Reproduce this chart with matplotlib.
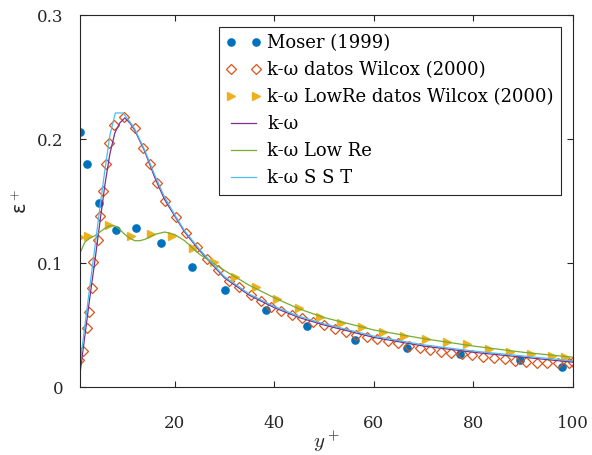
import numpy as np
import matplotlib
matplotlib.use("Agg")
import matplotlib.pyplot as plt

plt.rcParams['font.family'] = ['DejaVu Serif']
plt.rcParams['mathtext.fontset'] = 'cm'

# === Data ===
moser_x = [0.9, 2.5, 4.9, 8.3, 12.3, 17.2, 23.4, 30.1, 38.3, 46.6, 56.2, 66.7, 77.4, 89.4, 97.7]
moser_y = [0.206, 0.180, 0.148, 0.127, 0.128, 0.116, 0.097, 0.078, 0.062, 0.049, 0.038, 0.0315,
           0.027, 0.0215, 0.016]

wilcox_x = [0.7, 1.6, 2.45, 2.9, 3.45, 3.7, 4.6, 5.1, 5.6, 6.3, 6.9, 7.8, 9.8, 12.0, 13.6, 15.0,
            16.4, 18.0, 20.2, 22.2, 24.5, 26.5, 28.7, 31.0, 33.0, 35.4, 37.4, 39.4, 41.4, 43.5,
            45.6, 47.8, 50.0, 52.2, 54.4, 56.5, 58.6, 60.7, 62.8, 64.9, 67.0, 69.2, 71.3, 73.4,
            75.6, 77.7, 79.8, 82.0, 84.1, 86.3, 88.4, 90.6, 92.7, 94.7, 96.9, 99.1, 100.1]
wilcox_y = [0.0218, 0.0293, 0.0473, 0.0607, 0.0796, 0.1006, 0.1185, 0.1379, 0.158, 0.1796,
            0.1965, 0.2113, 0.2175, 0.2086, 0.193, 0.1796, 0.1648, 0.1504, 0.1373, 0.124,
            0.1131, 0.1032, 0.0944, 0.0857, 0.0804, 0.0742, 0.0696, 0.0648, 0.0613, 0.0581,
            0.0554, 0.0527, 0.050, 0.0468, 0.0445, 0.0419, 0.040, 0.0385, 0.037, 0.0352,
            0.033, 0.0312, 0.030, 0.0285, 0.0275, 0.0266, 0.0255, 0.0244, 0.0234, 0.0223,
            0.0213, 0.0204, 0.0197, 0.0191, 0.019, 0.0191, 0.020]

lowre_x = [0.9, 2.7, 6.9, 11.2, 15.2, 19.5, 23.7, 27.9, 32.2, 36.4, 40.6, 44.9, 49.1, 53.4,
           57.6, 61.9, 66.1, 70.4, 74.6, 78.8, 83.1, 87.3, 91.5, 95.7, 98.4]
lowre_y = [0.121, 0.122, 0.131, 0.122, 0.123, 0.122, 0.112, 0.101, 0.089, 0.081, 0.071, 0.0635,
           0.0567, 0.052, 0.048, 0.0446, 0.041, 0.0384, 0.036, 0.0347, 0.031, 0.0285, 0.027,
           0.025, 0.0244]

kw_x = [1, 2, 3, 4, 5, 6, 7, 8, 9, 10, 11, 12, 14, 16, 18, 20, 22, 25, 30, 35, 40, 45, 50,
        60, 70, 80, 90, 100]
kw_y = [0.011, 0.042, 0.073, 0.102, 0.133, 0.163, 0.188, 0.205, 0.213, 0.217, 0.213, 0.207,
        0.190, 0.169, 0.151, 0.138, 0.125, 0.110, 0.088, 0.074, 0.064, 0.056, 0.050, 0.040,
        0.033, 0.028, 0.024, 0.020]

lr_x = [1, 2, 3, 4, 5, 6, 7, 8, 9, 10, 11, 12, 13, 14, 16, 18, 20, 22, 25, 30, 35, 40, 45, 50,
        60, 70, 80, 90, 100]
lr_y = [0.108, 0.117, 0.120, 0.122, 0.125, 0.128, 0.130, 0.130, 0.127, 0.123, 0.120, 0.118,
        0.118, 0.119, 0.123, 0.125, 0.123, 0.118, 0.107, 0.094, 0.082, 0.072, 0.063, 0.056,
        0.046, 0.039, 0.033, 0.028, 0.024]

sst_x = [1, 2, 3, 4, 5, 6, 7, 8.1, 9.6, 11, 12, 14, 16, 18, 20, 22, 25, 30, 35, 40, 45, 50,
         60, 70, 80, 90, 100]
sst_y = [0.018, 0.050, 0.082, 0.113, 0.145, 0.175, 0.203, 0.221, 0.221, 0.214, 0.208, 0.191,
         0.171, 0.153, 0.139, 0.126, 0.111, 0.089, 0.075, 0.065, 0.057, 0.051, 0.041, 0.034,
         0.029, 0.025, 0.021]

fig = plt.figure(figsize=(5.92, 4.55), dpi=100)
ax = fig.add_axes([80/592, 1-387/455, 493/592, 372/455])

ax.plot(moser_x, moser_y, 'o', color='#0072BD', ms=5.2, label='Moser (1999)')
ax.plot(wilcox_x, wilcox_y, 'D', mfc='none', mec='#D95319', mew=0.9, ms=5,
        label='k-ω datos Wilcox (2000)')
ax.plot(lowre_x, lowre_y, '>', color='#EDB120', ms=5.5, label='k-ω LowRe datos Wilcox (2000)')
ax.plot(kw_x, kw_y, '-', color='#7E2F8E', lw=0.9, label='k-ω')
ax.plot(lr_x, lr_y, '-', color='#77AC30', lw=0.9, label='k-ω Low Re')
ax.plot(sst_x, sst_y, '-', color='#4DBEEE', lw=0.9, label='k-ω S S T')

ax.set_xlim(1, 100)
ax.set_ylim(0, 0.3)
ax.set_xticks([20, 40, 60, 80, 100])
ax.set_yticks([0, 0.1, 0.2, 0.3])
ax.set_yticklabels(['0', '0.1', '0.2', '0.3'])
ax.tick_params(direction='in', top=True, right=True, length=4, width=0.8,
               colors='#262626', labelsize=12)
ax.tick_params(axis='x', pad=20)
ax.tick_params(axis='y', pad=12)
for s in ax.spines.values():
    s.set_color('#262626')
    s.set_linewidth(0.8)

ax.set_xlabel(r'$y^+$', fontsize=15, color='#262626', labelpad=-2)
ax.set_ylabel('ε$^+$', fontsize=14, color='#262626', family='DejaVu Sans', labelpad=4)

leg = ax.legend(loc='upper right', bbox_to_anchor=(561/592, 1-27/455),
                bbox_transform=fig.transFigure, borderaxespad=0, numpoints=2,
                fontsize=13, handlelength=2.0, handletextpad=0.3, labelspacing=0.5,
                fancybox=False, framealpha=1, edgecolor='#262626', borderpad=0.4)
leg.get_frame().set_linewidth(0.8)

fig.savefig('out.png', dpi=100)
